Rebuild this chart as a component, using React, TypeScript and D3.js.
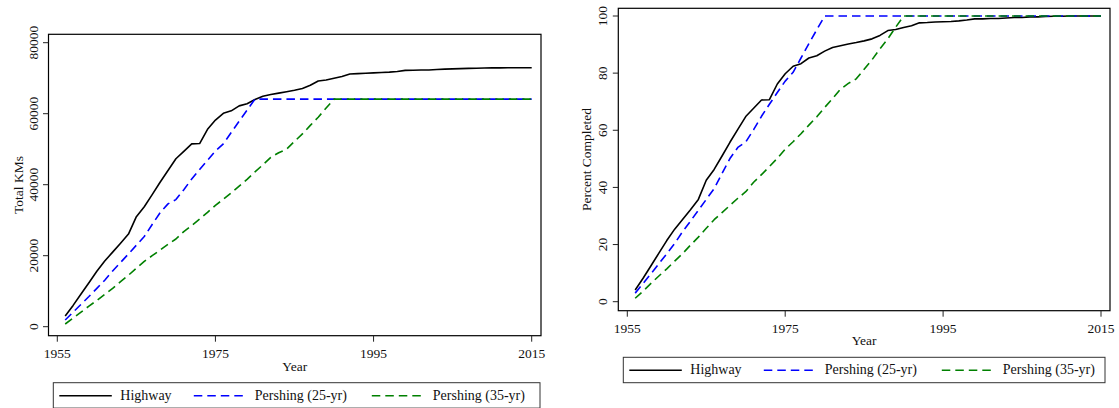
import React, { useRef, useEffect } from 'react';
import * as d3 from 'd3';

// years 1956..2015, one value per year
const years = d3.range(1956, 2016);

const highwayKm = [
	3000, 6000, 9200, 12400, 15600, 18500, 21000, 23500, 26100, 31000,
	33800, 37200, 40700, 44000, 47300, 49400, 51500, 51600, 55600, 58200,
	60100, 60800, 62200, 62800, 64000, 64900, 65400, 65800, 66200, 66600,
	67100, 68000, 69200, 69500, 70000, 70500, 71200, 71300, 71400, 71500,
	71600, 71700, 71900, 72200, 72250, 72300, 72320, 72450, 72550, 72620,
	72700, 72760, 72820, 72860, 72900, 72920, 72940, 72950, 72950, 72950,
];

const pershing25Km = [
	1900, 4100, 6300, 8500, 10800, 13100, 15700, 18100, 20500, 22950,
	25400, 28800, 32100, 34600, 35800, 38600, 41600, 44300, 46900, 49500,
	51500, 54700, 57900, 61000, 64100, 64100, 64100, 64100, 64100, 64100,
	64100, 64100, 64100, 64100, 64100, 64100, 64100, 64100, 64100, 64100,
	64100, 64100, 64100, 64100, 64100, 64100, 64100, 64100, 64100, 64100,
	64100, 64100, 64100, 64100, 64100, 64100, 64100, 64100, 64100, 64100,
];

const pershing35Km = [
	760, 2400, 4100, 5800, 7400, 9100, 10800, 12700, 14500, 16500,
	18400, 20000, 21600, 23200, 24700, 26800, 28500, 30300, 32200, 34200,
	35900, 37700, 39600, 41500, 43600, 45600, 47700, 49000, 50000, 52200,
	54300, 56700, 59000, 61600, 64100, 64100, 64100, 64100, 64100, 64100,
	64100, 64100, 64100, 64100, 64100, 64100, 64100, 64100, 64100, 64100,
	64100, 64100, 64100, 64100, 64100, 64100, 64100, 64100, 64100, 64100,
];

const highwayPct = [
	4.1, 8.2, 12.6, 17.0, 21.4, 25.4, 28.8, 32.2, 35.8, 42.5,
	46.3, 51.0, 55.8, 60.3, 64.8, 67.7, 70.6, 70.7, 76.2, 79.8,
	82.4, 83.3, 85.3, 86.1, 87.7, 89.0, 89.6, 90.2, 90.7, 91.3,
	92.0, 93.2, 94.9, 95.3, 96.0, 96.6, 97.6, 97.7, 97.9, 98.0,
	98.1, 98.3, 98.6, 99.0, 99.0, 99.1, 99.1, 99.3, 99.5, 99.5,
	99.7, 99.7, 99.8, 99.9, 99.9, 100, 100, 100, 100, 100,
];

const pershing25Pct = [
	3.0, 6.4, 9.8, 13.3, 16.8, 20.4, 24.5, 28.2, 32.0, 35.8,
	39.6, 44.9, 50.1, 54.0, 55.9, 60.2, 64.9, 69.1, 73.2, 77.2,
	80.3, 85.3, 90.3, 95.2, 100, 100, 100, 100, 100, 100,
	100, 100, 100, 100, 100, 100, 100, 100, 100, 100,
	100, 100, 100, 100, 100, 100, 100, 100, 100, 100,
	100, 100, 100, 100, 100, 100, 100, 100, 100, 100,
];

const pershing35Pct = [
	1.2, 3.7, 6.4, 9.0, 11.5, 14.2, 16.8, 19.8, 22.6, 25.7,
	28.7, 31.2, 33.7, 36.2, 38.5, 41.8, 44.5, 47.3, 50.2, 53.4,
	56.0, 58.8, 61.8, 64.7, 68.0, 71.1, 74.4, 76.4, 78.0, 81.4,
	84.7, 88.5, 92.0, 96.1, 100, 100, 100, 100, 100, 100,
	100, 100, 100, 100, 100, 100, 100, 100, 100, 100,
	100, 100, 100, 100, 100, 100, 100, 100, 100, 100,
];

const xTicks = [1955, 1975, 1995, 2015];
const kmTicks = [0, 20000, 40000, 60000, 80000];
const pctTicks = [0, 20, 40, 60, 80, 100];

const seriesNames = ['Highway', 'Pershing (25-yr)', 'Pershing (35-yr)'];
const seriesColors = ['#000000', '#0000ff', '#008000'];
const seriesDash = [null, '8.5,5', '8.5,5'];

type Panel = {
	frame: { left: number; right: number; top: number; bottom: number };
	xRange: [number, number];
	yDomain: [number, number];
	yRange: [number, number];
	yTicks: number[];
	yTitle: string;
	series: number[][];
	tickLabelDy: number;
	yearDy: number;
	yLabelX: number;
	yTitleX: number;
	legend: { left: number; right: number; top: number };
};

const panels: Panel[] = [
	{
		frame: { left: 48.5, right: 541, top: 34.3, bottom: 335.7 },
		xRange: [57.3, 531.7],
		yDomain: [0, 80000],
		yRange: [326.7, 42.7],
		yTicks: kmTicks,
		yTitle: 'Total KMs',
		series: [highwayKm, pershing25Km, pershing35Km],
		tickLabelDy: 22.5,
		yearDy: 35,
		yLabelX: 37.5,
		yTitleX: 23.2,
		legend: { left: 53.3, right: 540, top: 382.7 },
	},
	{
		frame: { left: 618.3, right: 1110, top: 8.3, bottom: 310.7 },
		xRange: [627.3, 1101],
		yDomain: [0, 100],
		yRange: [301.7, 16],
		yTicks: pctTicks,
		yTitle: 'Percent Completed',
		series: [highwayPct, pershing25Pct, pershing35Pct],
		tickLabelDy: 22,
		yearDy: 34,
		yLabelX: 606.7,
		yTitleX: 590.5,
		legend: { left: 623.3, right: 1105, top: 357.3 },
	},
];

const FONT = '"Liberation Serif", "Times New Roman", serif';

export default function App() {
	const svgRef = useRef<SVGSVGElement | null>(null);

	useEffect(() => {
		if (!svgRef.current) return;
		const svg = d3.select(svgRef.current);
		svg.selectAll('*').remove();

		svg.append('rect')
			.attr('width', 1119)
			.attr('height', 408)
			.attr('fill', '#ffffff');

		panels.forEach((p) => {
			const g = svg.append('g');
			const x = d3.scaleLinear().domain([1955, 2015]).range(p.xRange);
			const y = d3.scaleLinear().domain(p.yDomain).range(p.yRange);
			const f = p.frame;

			// lines
			const line = d3.line<number>()
				.x((_, i) => x(years[i]))
				.y((d) => y(d));

			p.series.forEach((s, i) => {
				g.append('path')
					.datum(s)
					.attr('fill', 'none')
					.attr('stroke', seriesColors[i])
					.attr('stroke-width', 1.6)
					.attr('stroke-dasharray', seriesDash[i])
					.attr('stroke-linejoin', 'round')
					.attr('d', line);
			});

			// plot frame
			g.append('rect')
				.attr('x', f.left)
				.attr('y', f.top)
				.attr('width', f.right - f.left)
				.attr('height', f.bottom - f.top)
				.attr('fill', 'none')
				.attr('stroke', '#000')
				.attr('stroke-width', 1.2);

			// y ticks + labels
			p.yTicks.forEach((t) => {
				g.append('line')
					.attr('x1', f.left - 5.5)
					.attr('x2', f.left)
					.attr('y1', y(t))
					.attr('y2', y(t))
					.attr('stroke', '#222')
					.attr('stroke-width', 1);
				g.append('text')
					.attr('transform', `translate(${p.yLabelX}, ${y(t)}) rotate(-90)`)
					.attr('text-anchor', 'middle')
					.attr('font-family', FONT)
					.attr('font-size', 13.5)
					.attr('fill', '#111')
					.text(String(t));
			});

			// x ticks + labels
			xTicks.forEach((t) => {
				g.append('line')
					.attr('x1', x(t))
					.attr('x2', x(t))
					.attr('y1', f.bottom)
					.attr('y2', f.bottom + 6)
					.attr('stroke', '#222')
					.attr('stroke-width', 1);
				g.append('text')
					.attr('x', x(t))
					.attr('y', f.bottom + p.tickLabelDy)
					.attr('text-anchor', 'middle')
					.attr('font-family', FONT)
					.attr('font-size', 13.5)
					.attr('fill', '#111')
					.text(String(t));
			});

			// axis titles
			g.append('text')
				.attr('x', (f.left + f.right) / 2)
				.attr('y', f.bottom + p.yearDy)
				.attr('text-anchor', 'middle')
				.attr('font-family', FONT)
				.attr('font-size', 13.5)
				.attr('fill', '#111')
				.text('Year');

			g.append('text')
				.attr('transform', `translate(${p.yTitleX}, ${(f.top + f.bottom) / 2}) rotate(-90)`)
				.attr('text-anchor', 'middle')
				.attr('font-family', FONT)
				.attr('font-size', 13.5)
				.attr('fill', '#111')
				.text(p.yTitle);

			// legend
			const L = p.legend;
			const lg = g.append('g').attr('transform', `translate(${L.left}, ${L.top})`);
			lg.append('rect')
				.attr('width', L.right - L.left)
				.attr('height', 25.4)
				.attr('fill', '#fff')
				.attr('stroke', '#333')
				.attr('stroke-width', 1);
			const offsets = [6, 140.5, 318.5];
			seriesNames.forEach((name, i) => {
				lg.append('line')
					.attr('x1', offsets[i])
					.attr('x2', offsets[i] + 52.5)
					.attr('y1', 13)
					.attr('y2', 13)
					.attr('stroke', seriesColors[i])
					.attr('stroke-width', 1.6)
					.attr('stroke-dasharray', seriesDash[i]);
				lg.append('text')
					.attr('x', offsets[i] + 61)
					.attr('y', 17.2)
					.attr('font-family', FONT)
					.attr('font-size', 14)
					.attr('fill', '#111')
					.text(name);
			});
		});
	}, []);

	return (
		<svg
			ref={svgRef}
			width={1119}
			height={408}
			style={{ position: 'absolute', left: 0, top: 0 }}
		/>
	);
}
